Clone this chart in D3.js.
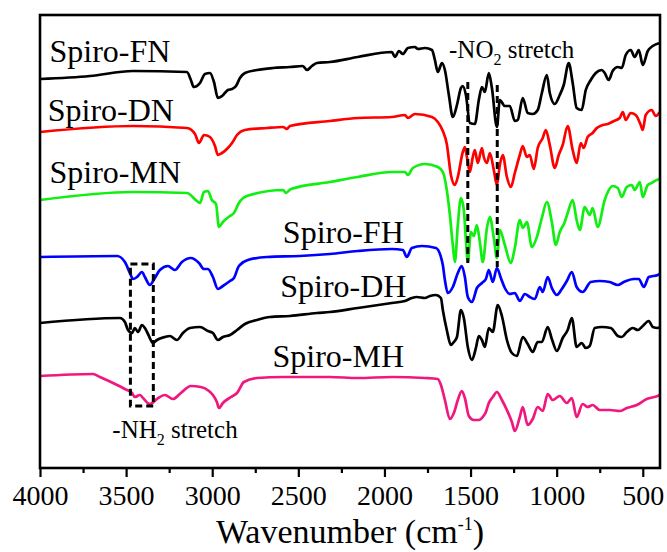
<!DOCTYPE html>
<html>
<head>
<meta charset="utf-8">
<script src="https://cdn.jsdelivr.net/npm/d3@7"></script>
<style>
  body { margin: 0; background: #fff; }
  text { font-family: "Liberation Serif", "Times New Roman", serif; fill: #000; }
</style>
</head>
<body>
<div id="chart-area"></div>
<script>
// FTIR spectra, [wavenumber (cm-1), transmittance (a.u., offset)]
const spiroFN = [[4000,77.8],[3710,78.4],[3461,79.4],[3147,79.2],[3124,77.6],[3107,76.2],[3071,77],[3042,78.8],[3013,79],[2990,77.2],[2967,74],[2943,74.4],[2909,75.6],[2885,75.8],[2862,76.4],[2839,78],[2810,79],[2740,79.6],[2648,80],[2549,80.2],[2474,80.4],[2450,79.6],[2421,80.4],[2392,81],[2317,81.2],[2155,82.2],[1957,83.2],[1939,82.2],[1916,83.4],[1893,82.8],[1864,84],[1823,84.2],[1806,83.8],[1765,84],[1724,83.6],[1707,81.6],[1690,79.2],[1666,81],[1649,79.6],[1626,74.6],[1603,70.2],[1579,72.6],[1556,76],[1545,76.4],[1527,74.6],[1504,69],[1475,68.8],[1452,73.6],[1434,76.2],[1417,75.2],[1394,79],[1376,76],[1347,68.2],[1330,73.6],[1301,72.4],[1272,72.4],[1243,69.4],[1226,69.6],[1197,74],[1168,71],[1139,70.8],[1110,71.6],[1086,75],[1057,78.6],[1040,75],[1011,72.8],[982,74.6],[959,76.6],[930,81],[907,77],[884,72],[855,71.6],[831,75.6],[802,77.6],[773,79],[738,79.6],[721,79],[698,77.6],[675,79.4],[645,80.2],[622,80],[599,82.6],[570,83.6],[547,82.2],[523,83.6],[500,80.6],[471,83.4],[442,84.4],[401,85]];

const spiroDN = [[4000,67.2],[3460,68.4],[3147,68],[3100,66.8],[3077,65],[3048,66.6],[3013,66.2],[2984,64.4],[2967,62.6],[2943,63],[2909,64],[2885,65],[2856,66.6],[2810,67.6],[2682,68],[2589,68.2],[2566,67.8],[2549,68.4],[2317,69.4],[2155,70],[1957,70.2],[1881,70.6],[1864,70],[1823,70.8],[1724,70.2],[1690,69.2],[1661,67.4],[1638,64.8],[1614,58.6],[1591,56.6],[1574,58.2],[1545,63.2],[1533,64.2],[1521,62.2],[1504,59.2],[1487,62.2],[1475,63.6],[1458,61],[1434,64],[1423,62.2],[1405,61],[1388,63],[1365,59.6],[1347,56.6],[1330,60.6],[1313,62.6],[1289,58.2],[1266,56.2],[1243,59],[1214,62.6],[1197,64.4],[1173,62.2],[1156,62.6],[1133,59.8],[1110,64],[1081,66],[1063,67.6],[1040,64.6],[1011,60],[988,62.6],[965,64.6],[936,68.4],[907,63.6],[884,61],[860,65],[843,64],[820,66.2],[791,67],[767,68],[732,68.6],[703,68.8],[668,69.4],[634,70],[616,71.2],[599,69.6],[570,71],[541,70.6],[512,68.6],[500,67.6],[483,70.6],[448,71.6],[425,70.4],[401,71.2]];

const spiroMN = [[4000,53.6],[3460,55.2],[3147,55],[3089,53.4],[3071,53],[3048,55.2],[3025,55.4],[3002,53.6],[2978,52.8],[2961,48.2],[2938,49.2],[2897,50.4],[2874,51],[2845,53],[2799,54.4],[2589,55.6],[2572,55],[2543,55.8],[2317,57.2],[2155,58.2],[1957,59.2],[1881,59.2],[1864,58.6],[1835,60],[1765,60.8],[1690,60.2],[1661,59.2],[1638,55.6],[1620,50.6],[1603,44.6],[1591,41.2],[1574,48.6],[1556,54],[1539,51.6],[1527,45.6],[1516,41.2],[1498,47.2],[1481,46.4],[1464,48.6],[1446,45.2],[1429,41.2],[1405,48],[1388,50.2],[1365,46],[1347,42],[1330,47.6],[1301,44.6],[1266,41],[1243,44],[1214,49.6],[1197,48],[1173,49.2],[1144,44.2],[1115,46.2],[1086,50],[1057,53.2],[1028,49.2],[1005,44.6],[982,47.2],[953,49.2],[936,51],[907,53.6],[884,49.6],[866,47.6],[837,52.2],[808,50.6],[791,52],[762,48.2],[721,53.6],[703,55.2],[675,56.4],[645,56],[622,54.2],[593,56.2],[564,56.6],[547,55.6],[517,57.2],[500,54.2],[471,56.6],[448,57],[419,57.6],[401,57.8]];

const spiroFH = [[4000,42.2],[3553,42.4],[3507,41.2],[3478,39],[3460,37.8],[3437,38.2],[3408,39.2],[3391,38.2],[3362,36.6],[3333,38],[3304,39.6],[3257,40.4],[3217,39.6],[3176,41.2],[3124,42],[3077,41],[3048,39.8],[3025,39.8],[2996,38.2],[2967,35.8],[2938,36.4],[2897,37.4],[2874,38],[2845,40.4],[2793,41.6],[2682,42.2],[2491,42.4],[2317,42.8],[2155,43.4],[1957,43.8],[1893,43.6],[1870,42.2],[1841,44],[1783,44.4],[1701,44],[1672,42.2],[1661,40.6],[1649,37.6],[1632,35],[1603,36.2],[1574,39],[1551,40.4],[1533,38.2],[1516,34.2],[1492,33.2],[1463,36],[1434,37],[1411,37.8],[1394,39.6],[1371,37.2],[1347,40],[1324,38],[1301,36],[1272,34.8],[1243,35],[1214,33.4],[1185,34.8],[1156,34.2],[1127,33.8],[1098,36.2],[1081,35.2],[1052,38.2],[1028,36],[999,34.6],[970,35.8],[941,37.4],[912,39.2],[884,36.2],[849,35.2],[802,37.2],[750,37.4],[692,37.2],[645,36.6],[610,37.2],[552,37.8],[523,37.8],[494,36.2],[465,38.2],[413,38.6],[401,38.8]];

const spiroDH = [[4000,29],[3536,30],[3507,29.2],[3489,27.6],[3466,27],[3449,28],[3431,27.2],[3408,28.6],[3391,28],[3373,26.8],[3344,25],[3321,25.6],[3275,26.2],[3246,26.4],[3205,25.6],[3170,27],[3130,28],[3071,28.2],[3025,27.4],[2996,27],[2967,25.6],[2938,26.2],[2897,26.6],[2856,27.6],[2810,28.8],[2740,29.6],[2665,30.2],[2549,30.4],[2392,31],[2317,31.2],[2155,32],[1957,33],[1881,33.4],[1841,34],[1812,34.2],[1765,34],[1736,34.4],[1701,34.6],[1672,34],[1661,31.6],[1638,27.6],[1614,24.6],[1597,25.2],[1579,26.2],[1556,31.6],[1539,30],[1516,24.2],[1492,21.6],[1469,24],[1452,26.4],[1434,25.6],[1417,24.2],[1394,28],[1371,27.2],[1342,32.6],[1318,30.4],[1289,25.6],[1260,23],[1231,22.4],[1197,26.2],[1168,24.8],[1139,23.2],[1110,25.2],[1086,25.2],[1052,28.2],[1028,25.8],[999,23.4],[965,26],[936,27.6],[912,30],[884,24.2],[855,25],[831,24],[808,24.4],[779,28],[738,28.2],[686,28],[645,26.4],[622,26.2],[593,27.2],[558,28],[529,27.6],[500,28.4],[465,29.4],[442,28.2],[413,28],[401,28.2]];

const spiroMH = [[4000,18.4],[3692,18.8],[3652,18.2],[3576,17],[3507,15.8],[3466,15],[3449,14.2],[3420,14.6],[3402,14],[3362,12.8],[3321,13.8],[3275,14.6],[3228,13.8],[3182,15],[3124,16.4],[3066,16.2],[3019,15.4],[2996,14.6],[2973,13.2],[2961,12],[2938,13],[2891,14.2],[2856,15],[2816,17.2],[2740,18],[2589,18.2],[2317,18.2],[2155,18],[1957,18.2],[1765,18],[1690,17.8],[1672,16.6],[1649,13.6],[1620,9.8],[1597,11],[1574,13.6],[1551,15.4],[1533,14],[1510,10.4],[1481,9.6],[1452,9.6],[1429,10.2],[1411,11.2],[1394,13],[1371,14.2],[1347,15.2],[1318,13.6],[1289,11.6],[1260,9.2],[1243,7.4],[1214,10.2],[1197,12.2],[1168,8.6],[1139,9.8],[1110,12.2],[1081,11.4],[1052,14.8],[1023,13.6],[982,14.4],[941,13],[912,14],[884,10.2],[849,12.8],[820,12.2],[791,12.6],[750,11.6],[692,11.6],[634,11.4],[593,12],[535,12.6],[477,13.8],[413,14.4],[401,14.6]];

const seriesNames = ["Spiro-FN", "Spiro-DN", "Spiro-MN", "Spiro-FH", "Spiro-DH", "Spiro-MH"];
const seriesColors = ["#000000", "#ff0000", "#11ee11", "#0000ff", "#000000", "#f0187f"];
const seriesData = [spiroFN, spiroDN, spiroMN, spiroFH, spiroDH, spiroMH];
// label anchor: [wavenumber, transmittance]
const labelPos = [[3945, 81.2], [3955, 69.4], [3945, 57], [2590, 45], [2605, 34.2], [2650, 20.2]];

const majorTicks = [4000, 3500, 3000, 2500, 2000, 1500, 1000, 500];
const minorTicks = [3750, 3250, 2750, 2250, 1750, 1250, 750];

// dashed guides: [wavenumber, t top, t bottom]
const no2Lines = [[1516, 77.2, 41], [1345, 76.6, 40.2]];
const nh2Box = [3475, 3342, 40.8, 12.4];

const width = 667, height = 552;
const margin = {top: 15, right: 7, bottom: 84, left: 40};

const svg = d3.select("#chart-area").append("svg")
    .attr("width", width)
    .attr("height", height);

const x = d3.scaleLinear()
    .domain([4000, 400])
    .range([margin.left, width - margin.right]);

const y = d3.scaleLinear()
    .domain([0, 90.6])
    .range([height - margin.bottom, margin.top]);

// minor ticks
svg.append("g")
    .attr("transform", `translate(0, ${height - margin.bottom})`)
    .call(d3.axisBottom(x).tickValues(minorTicks).tickSize(5).tickFormat(""))
    .call(g => g.select(".domain").remove())
    .selectAll("line").attr("stroke-width", 2.2);

// major ticks
const xAxis = svg.append("g")
    .attr("transform", `translate(0, ${height - margin.bottom})`)
    .call(d3.axisBottom(x).tickValues(majorTicks).tickSize(9).tickPadding(8).tickFormat(d3.format("d")))
xAxis.select(".domain").remove();
xAxis.selectAll("line").attr("stroke-width", 2.2);
xAxis.selectAll("text")
    .attr("font-size", "28px")
    .attr("font-family", "Liberation Serif, Times New Roman, serif")
    .attr("fill", "#000");

// axis title
const title = svg.append("text")
    .attr("x", (x.range()[0] + x.range()[1]) / 2)
    .attr("y", 543)
    .attr("text-anchor", "middle")
    .attr("font-size", "34px");
title.append("tspan").text("Wavenumber (cm");
title.append("tspan").attr("font-size", "18px").attr("dy", -13).text("-1");
title.append("tspan").attr("dy", 13).text(")");

// spectra
const line = d3.line()
    .x(d => x(d[0]))
    .y(d => y(d[1]))
    .curve(d3.curveMonotoneX);

seriesData.forEach((data, i) => {
    svg.append("path")
        .datum(data)
        .attr("fill", "none")
        .attr("stroke", seriesColors[i])
        .attr("stroke-width", 2.7)
        .attr("stroke-linejoin", "round")
        .attr("d", line);
});

// labels
seriesNames.forEach((name, i) => {
    svg.append("text")
        .attr("x", x(labelPos[i][0]))
        .attr("y", y(labelPos[i][1]))
        .attr("font-size", "32px")
        .text(name);
});

// NO2 guides
no2Lines.forEach(d => {
    svg.append("line")
        .attr("x1", x(d[0])).attr("x2", x(d[0]))
        .attr("y1", y(d[1])).attr("y2", y(d[2]))
        .attr("stroke", "#000")
        .attr("stroke-width", 3)
        .attr("stroke-dasharray", "7,4");
});

const no2Text = svg.append("text")
    .attr("x", x(1625))
    .attr("y", 58)
    .attr("font-size", "25px");
no2Text.append("tspan").text("-NO");
no2Text.append("tspan").attr("font-size", "16px").attr("dy", 7).text("2");
no2Text.append("tspan").attr("dy", -7).text(" stretch");

// NH2 box
svg.append("rect")
    .attr("x", x(nh2Box[0]))
    .attr("y", y(nh2Box[2]))
    .attr("width", x(nh2Box[1]) - x(nh2Box[0]))
    .attr("height", y(nh2Box[3]) - y(nh2Box[2]))
    .attr("fill", "none")
    .attr("stroke", "#000")
    .attr("stroke-width", 3)
    .attr("stroke-dasharray", "7,4");

const nh2Text = svg.append("text")
    .attr("x", x(3580))
    .attr("y", 438)
    .attr("font-size", "25px");
nh2Text.append("tspan").text("-NH");
nh2Text.append("tspan").attr("font-size", "16px").attr("dy", 7).text("2");
nh2Text.append("tspan").attr("dy", -7).text(" stretch");

// frame
svg.append("rect")
    .attr("x", margin.left)
    .attr("y", margin.top)
    .attr("width", width - margin.left - margin.right)
    .attr("height", height - margin.top - margin.bottom)
    .attr("fill", "none")
    .attr("stroke", "#000")
    .attr("stroke-width", 2.6);
</script>
</body>
</html>
